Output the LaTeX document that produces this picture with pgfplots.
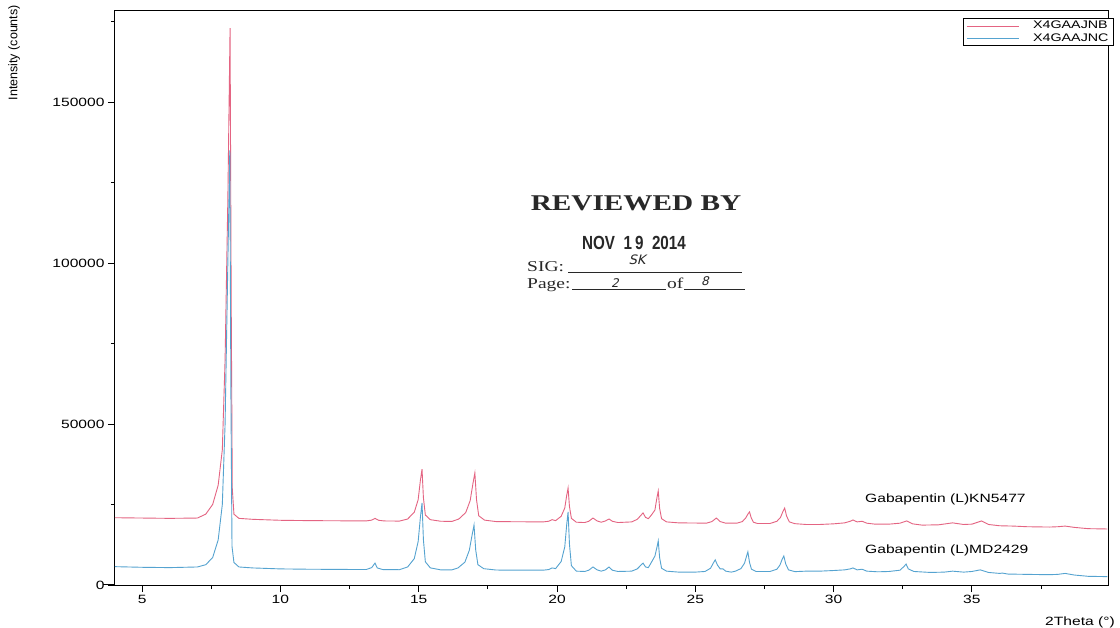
\documentclass[border=0pt]{standalone}
\usepackage{fontspec}
\setmainfont{Liberation Sans}[FakeStretch=1.3]
\newfontfamily\plainsans{Liberation Sans}
\newfontfamily\condsans{Liberation Sans}[FakeStretch=0.8]
\newfontfamily\stampserif{Liberation Serif}[FakeStretch=1.3]
\newfontfamily\handfont{DejaVu Sans}[FakeSlant=0.25]
\usepackage{pgfplots}
\pgfplotsset{compat=1.18}
\definecolor{redline}{RGB}{228,100,130}
\definecolor{blueline}{RGB}{85,163,208}
\definecolor{stamp}{RGB}{40,40,40}

\pgfplotstableread{
x y
4.0 20900
5.0 20800
6.0 20700
7.0 20800
7.3 22000
7.55 25000
7.75 31000
7.9 42000
8.0 70000
8.1 120000
8.18 173000
8.22 90000
8.26 30000
8.32 22000
8.5 20700
9.0 20400
10.0 20100
11.0 20000
12.0 19950
13.1 19900
13.3 20150
13.42 20700
13.55 20100
13.75 19900
14.3 19850
14.6 20500
14.84 22600
14.98 26500
15.06 32440
15.12 36000
15.17 27090
15.24 21740
15.42 20290
15.8 19800
16.2 19750
16.45 20500
16.7 22500
16.86 26200
16.96 31480
17.03 34800
17.09 26500
17.17 21510
17.38 20150
17.8 19700
18.5 19650
19.5 19600
19.7 19800
19.82 20300
19.95 20000
20.15 21350
20.28 23900
20.35 27800
20.40 30100
20.45 24400
20.52 20700
20.7 19500
21.0 19400
21.15 19800
21.30 20800
21.45 19900
21.6 19500
21.75 19900
21.88 20500
22.0 19800
22.2 19400
22.7 19600
22.9 20400
23.05 21800
23.11 22400
23.2 21000
23.3 20600
23.41 21700
23.54 23300
23.61 27000
23.66 29200
23.71 23800
23.78 20600
23.96 19600
24.4 19300
25.0 19250
25.4 19200
25.6 19700
25.76 20800
25.9 19700
26.1 19200
26.5 19200
26.7 19700
26.82 20800
26.9 22000
26.96 22700
27.02 20900
27.1 19500
27.25 19100
27.7 19100
27.95 19800
28.08 21000
28.17 22900
28.23 23900
28.3 21400
28.4 19600
28.6 19050
29.0 18800
29.5 18800
30.0 19000
30.4 19300
30.6 19800
30.7 20200
30.85 19600
31.03 19800
31.2 19200
31.5 18900
32.0 18900
32.4 19200
32.64 19900
32.85 19000
33.2 18600
33.8 18700
34.3 19300
34.7 18800
35.0 18900
35.35 19900
35.6 18800
36.0 18400
36.5 18300
37.0 18100
37.8 18000
38.1 18100
38.37 18300
38.7 17900
39.2 17500
39.9 17400
}\redtable

\pgfplotstableread{
x y
4.0 5700
5.0 5500
6.0 5400
7.0 5600
7.3 6300
7.55 8500
7.75 14000
7.9 25000
8.0 50000
8.1 100000
8.17 135000
8.21 60000
8.25 12000
8.32 7000
8.5 5600
9.0 5300
10.0 5000
11.0 4900
12.0 4850
13.1 4800
13.3 5400
13.42 6800
13.5 5300
13.7 4800
14.3 4750
14.6 5600
14.84 8200
14.98 13500
15.06 20920
15.12 25500
15.17 14060
15.24 7200
15.42 5320
15.8 4700
16.2 4700
16.42 5300
16.67 7100
16.83 10800
16.93 15530
17.0 18600
17.06 10930
17.14 6320
17.35 5070
17.8 4650
18.5 4600
19.5 4600
19.7 4800
19.82 5300
19.95 5100
20.15 7300
20.28 11800
20.35 18700
20.40 22700
20.45 12700
20.52 6000
20.7 4300
21.0 4200
21.15 4600
21.3 5600
21.45 4700
21.6 4300
21.75 4700
21.88 5600
22.0 4600
22.2 4200
22.7 4300
22.9 5000
23.05 6300
23.11 6800
23.2 5600
23.3 5400
23.41 7000
23.54 9000
23.61 11600
23.66 13700
23.71 8500
23.78 5200
23.96 4300
24.4 4000
25.0 4000
25.35 4200
25.55 5200
25.65 6800
25.72 7800
25.8 6200
25.9 5000
26.0 5000
26.1 4300
26.3 4000
26.45 4300
26.65 5100
26.78 6800
26.85 8900
26.9 10300
26.96 7000
27.03 4900
27.2 4200
27.7 4200
27.95 4900
28.06 6200
28.14 8000
28.2 9000
28.27 6500
28.37 4700
28.6 4150
29.0 4300
29.5 4300
30.0 4500
30.4 4700
30.6 5000
30.7 5300
30.85 4700
31.03 4900
31.2 4300
31.6 4100
32.0 4200
32.4 4600
32.55 5800
32.62 6500
32.7 5000
32.9 4200
33.5 3900
34.0 4000
34.3 4300
34.7 4000
35.0 4200
35.3 4700
35.6 3900
36.0 3600
36.1 3700
36.3 3400
37.0 3300
37.8 3200
38.1 3300
38.37 3600
38.7 3100
39.2 2700
39.9 2600
}\bluetable

\begin{document}
\begin{tikzpicture}[x=1pt,y=1pt]
\fill[white] (-115,-42) rectangle (1005,585);
\begin{axis}[
  at={(0pt,0pt)}, anchor=south west,
  scale only axis, width=993pt, height=574pt,
  xmin=4.02, xmax=39.92, ymin=0, ymax=178300,
  scaled x ticks=false, scaled y ticks=false,
  axis line style={black, line width=1pt},
  tick align=outside, xtick pos=bottom, ytick pos=left,
  major tick length=7pt, minor tick length=4pt,
  tick style={black, line width=0.9pt},
  xtick={5,10,15,20,25,30,35}, xticklabels={5,10,15,20,25,30,35},
  minor xtick={7.5,12.5,17.5,22.5,27.5,32.5,37.5},
  ytick={0,50000,100000,150000}, yticklabels={0,50000,100000,150000},
  minor ytick={25000,75000,125000,175000},
  /pgf/number format/assume math mode=true,
  ticklabel style={font=\fontsize{12}{14}\selectfont},
  legend style={at={(1.006,0.988)}, anchor=north east, draw=black, line width=0.8pt,
    font=\fontsize{11}{12}\selectfont, inner xsep=3pt, inner ysep=1pt, row sep=-1pt,
    cells={anchor=west}},
  legend image code/.code={\draw[#1,line width=0.6pt] (0pt,0pt) -- (52pt,0pt);},
]
\addplot[redline, line width=0.9pt] table[x=x,y=y] {\redtable};
\addlegendentry{\hspace{12pt}X4GAAJNB}
\addplot[blueline, line width=0.9pt] table[x=x,y=y] {\bluetable};
\addlegendentry{\hspace{12pt}X4GAAJNC}
\end{axis}
\draw[black, line width=1pt] (-12,0) -- (0,0);
% axis titles
\node[rotate=90, anchor=north east, inner sep=0pt, font=\plainsans\fontsize{12.5}{14}\selectfont] at (-107,580) {Intensity (counts)};
\node[anchor=west, inner sep=0pt, font=\fontsize{12}{14}\selectfont] at (930,-37) {2Theta (°)};
% series annotations
\node[anchor=west, inner sep=0pt, font=\fontsize{12}{14}\selectfont] at (750,86) {Gabapentin (L)KN5477};
\node[anchor=west, inner sep=0pt, font=\fontsize{12}{14}\selectfont] at (750,35) {Gabapentin (L)MD2429};
% review stamp
\node[inner sep=0pt, text=stamp, font=\stampserif\bfseries\fontsize{22.5}{24}\selectfont] at (521,382) {REVIEWED BY};
\node[inner sep=0pt, text=stamp, font=\condsans\bfseries\fontsize{19}{20}\selectfont] at (519,342) {NOV\ \ 1\,9\ \ 2014};
\node[anchor=base west, inner sep=0pt, text=stamp, font=\stampserif\fontsize{15}{16}\selectfont] at (412,313) {SIG:};
\draw[stamp, line width=1pt] (453,312) -- (627,312);
\node[inner sep=0pt, text=stamp, font=\handfont\fontsize{13}{14}\selectfont] at (522,325) {SK};
\node[anchor=base west, inner sep=0pt, text=stamp, font=\stampserif\fontsize{15}{16}\selectfont] at (412,296) {Page:};
\draw[stamp, line width=1pt] (457,295) -- (551,295);
\node[inner sep=0pt, text=stamp, font=\handfont\fontsize{12}{14}\selectfont] at (500,302) {2};
\node[anchor=base west, inner sep=0pt, text=stamp, font=\stampserif\fontsize{15}{16}\selectfont] at (552,296) {of};
\draw[stamp, line width=1pt] (569,295) -- (630,295);
\node[inner sep=0pt, text=stamp, font=\handfont\fontsize{12}{14}\selectfont] at (590,304) {8};
\pgfresetboundingbox
\path[use as bounding box] (-115,-42) rectangle (1005,585);
\end{tikzpicture}
\end{document}
